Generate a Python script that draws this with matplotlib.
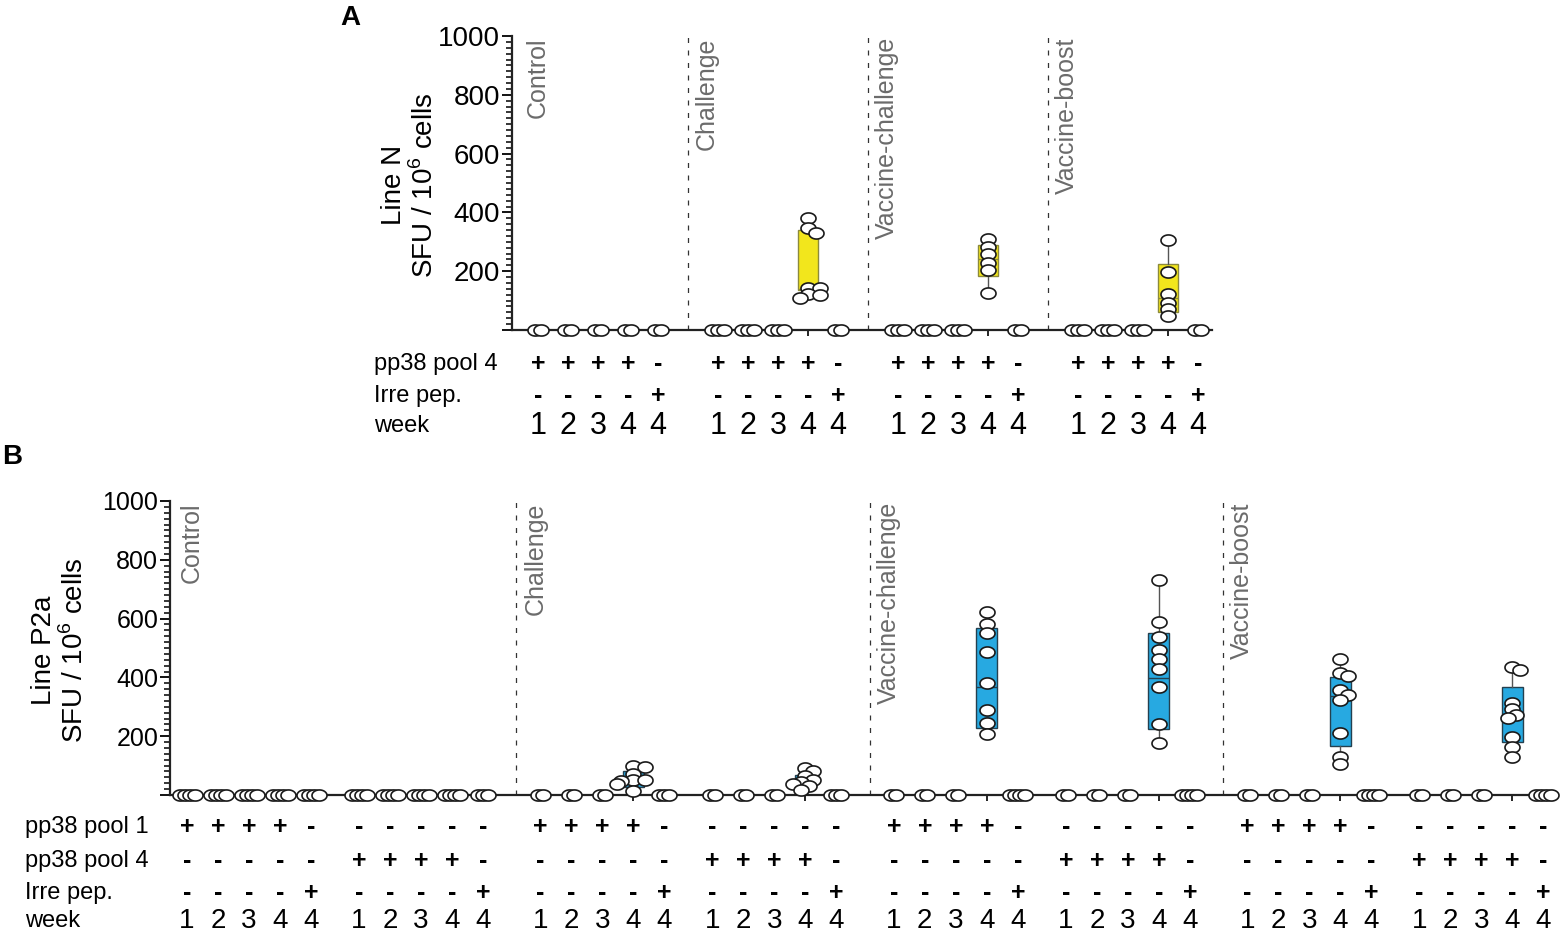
import numpy as np
import matplotlib
matplotlib.use("Agg")
import matplotlib.pyplot as plt
from matplotlib.path import Path
from matplotlib.ticker import MultipleLocator
from matplotlib.transforms import blended_transform_factory

plt.rcParams["font.family"] = ["Liberation Sans", "DejaVu Sans"]
plt.rcParams["mathtext.fontset"] = "custom"
plt.rcParams["mathtext.rm"] = "Liberation Sans"

GROUPS = ["Control", "Challenge", "Vaccine-challenge", "Vaccine-boost"]

# ---- panel A: line N, pp38 pool 4 ----
A_POOL4 = ["+", "+", "+", "+", "-"]
A_IRRE = ["-", "-", "-", "-", "+"]
A_WEEK = ["1", "2", "3", "4", "4"]
# number of animals with zero spots per condition
A_ZEROS = [
    [2, 2, 2, 2, 2],
    [3, 3, 3, 0, 2],
    [3, 3, 3, 0, 2],
    [3, 3, 3, 0, 2],
]
# responders at week 4 (pool 4 stimulation), per group
A_W4 = [
    [],
    [380, 346, 331, 144, 142, 122, 119, 108],
    [308, 284, 259, 229, 204, 125],
    [306, 196, 122, 91, 70, 48],
]
A_Q1 = [None, 136, 184, 62]
A_MED = [None, 140, 240, 108]
A_Q3 = [None, 340, 289, 224]

# ---- panel B: line P2a, pp38 pool 1 and pool 4 ----
B_POOL1 = ["+", "+", "+", "+", "-", "-", "-", "-", "-", "-"]
B_POOL4 = ["-", "-", "-", "-", "-", "+", "+", "+", "+", "-"]
B_IRRE = ["-", "-", "-", "-", "+", "-", "-", "-", "-", "+"]
B_WEEK = ["1", "2", "3", "4", "4", "1", "2", "3", "4", "4"]
B_ZEROS = [
    [4, 4, 4, 4, 4, 4, 4, 4, 4, 3],
    [2, 2, 2, 0, 3, 2, 2, 2, 0, 3],
    [2, 2, 2, 0, 4, 2, 2, 2, 0, 4],
    [2, 2, 2, 0, 4, 2, 2, 2, 0, 4],
]
# (group, pool) -> week 4 values
B_W4 = {
    (1, 0): [100, 95, 72, 51, 51, 47, 37, 15],
    (1, 1): [91, 82, 63, 51, 45, 38, 31, 17],
    (2, 0): [621, 582, 552, 487, 382, 289, 244, 207],
    (2, 1): [731, 590, 539, 493, 461, 427, 366, 241, 178],
    (3, 0): [463, 416, 405, 357, 340, 323, 210, 128, 104],
    (3, 1): [434, 425, 312, 291, 272, 261, 198, 164, 128],
}
B_BOX = {  # q1, median, q3
    (1, 0): (28, 50, 83),
    (1, 1): (28, 45, 68),
    (2, 0): (229, 366, 567),
    (2, 1): (224, 397, 552),
    (3, 0): (168, 338, 402),
    (3, 1): (181, 272, 366),
}

GREY_TXT = "#6b6b6b"
YELLOW = "#F2E61C"
BLUE = "#27A9E1"

t = np.linspace(0, 2 * np.pi, 60)
ELLIPSE = Path(np.column_stack([np.cos(t), 0.74 * np.sin(t)]), closed=True)
MW, MH = 15.0, 11.0  # marker size in pixels


def px_per_unit(ax):
    p0 = ax.transData.transform((0, 0))
    p1 = ax.transData.transform((1, 1))
    return p1[0] - p0[0], p1[1] - p0[1]


def draw_points(ax, x, values, n_zero, zero_gap):
    sx, sy = px_per_unit(ax)
    xs, ys = [], []
    if n_zero:
        offs = (np.arange(n_zero) - (n_zero - 1) / 2) * zero_gap
        xs += list(x + offs / sx)
        ys += [0] * n_zero
    placed = []
    for v in sorted(values, reverse=True):
        yp = v * sy
        for k in [0, 4, -4, 8, -8, 12, -12, 16, -16]:
            if all(((k - px) / MW) ** 2 + ((yp - py) / MH) ** 2 >= 0.55 ** 2
                   for px, py in placed):
                break
        placed.append((k, yp))
        xs.append(x + k / sx)
        ys.append(v)
    ax.plot(xs, ys, linestyle="none", marker=ELLIPSE, markersize=MW * 0.72,
            markerfacecolor="white", markeredgecolor="#1a1a1a",
            markeredgewidth=1.2, zorder=5, clip_on=False)


def draw_box(ax, x, values, q1, med, q3, color, edge):
    stats = [{"med": med, "q1": q1, "q3": q3,
              "whislo": min(values), "whishi": max(values), "fliers": []}]
    ax.bxp(stats, positions=[x], widths=0.68, patch_artist=True,
           showcaps=False, manage_ticks=False,
           boxprops=dict(facecolor=color, edgecolor=edge, linewidth=1.0),
           medianprops=dict(color=edge, linewidth=1.0),
           whiskerprops=dict(color="#555555", linewidth=1.0), zorder=3)


def style_axis(ax, positions, xlim, ticksize):
    ax.set_xlim(*xlim)
    ax.set_ylim(0, 1000)
    for side in ("top", "right"):
        ax.spines[side].set_visible(False)
    for side in ("left", "bottom"):
        ax.spines[side].set_linewidth(1.6)
        ax.spines[side].set_color("#222222")
    ax.set_yticks(np.arange(0, 1001, 200))
    ax.set_yticklabels(["", "200", "400", "600", "800", "1000"], fontsize=ticksize)
    ax.yaxis.set_minor_locator(MultipleLocator(20))
    ax.tick_params(axis="y", which="major", length=7, width=1.3, pad=1.5)
    ax.tick_params(axis="y", which="minor", length=4, width=1.1)
    ax.set_xticks(positions)
    ax.set_xticklabels([])
    ax.tick_params(axis="x", length=4, width=1.2)


def draw_separators(ax, seps, group_label_x):
    for s in seps:
        ax.axvline(s, ymin=0, ymax=1, color="#333333", linewidth=0.9,
                   linestyle=(0, (4, 6)), zorder=1)
    for gx, name in zip(group_label_x, GROUPS):
        ax.text(gx, 996, name, rotation=90, ha="center", va="top",
                fontsize=18, color=GREY_TXT)


def draw_table(fig, ax, positions, rows, y_px, label_x_px, week_size):
    tr = blended_transform_factory(ax.transData, fig.transFigure)
    H = 933.0
    for (label, signs), ypx in zip(rows, y_px):
        yf = 1 - ypx / H
        fig.text(label_x_px / 1560, yf, label, fontsize=17, ha="left", va="center")
        is_week = label == "week"
        for x, s in zip(positions, signs):
            ax.text(x, yf, s, transform=tr, ha="center", va="center",
                    fontsize=week_size if is_week else 18,
                    fontweight="normal" if is_week else "bold", clip_on=False)


fig = plt.figure(figsize=(15.6, 9.33), dpi=100)

# ---------------- panel A ----------------
axA = fig.add_axes([512 / 1560, 1 - 330 / 933, 700 / 1560, 294 / 933])
a_pos = [g * 6 + i for g in range(4) for i in range(5)]
style_axis(axA, a_pos, (-0.87, 22.47), 20)
a_seps = [g * 6 - 1 for g in range(1, 4)]
draw_separators(axA, a_seps, [-0.87 + 0.85] + [s + 0.63 for s in a_seps])
for g in range(4):
    for i in range(5):
        x = g * 6 + i
        vals = A_W4[g] if i == 3 else []
        if vals and A_Q1[g] is not None:
            draw_box(axA, x, vals, A_Q1[g], A_MED[g], A_Q3[g], YELLOW, "#8c8a3c")
        draw_points(axA, x, vals, A_ZEROS[g][i], 6.0)

draw_table(fig, axA, a_pos,
           [("pp38 pool 4", A_POOL4 * 4), ("Irre pep.", A_IRRE * 4), ("week", A_WEEK * 4)],
           [364, 396, 426], 374, 22)
fig.text(410 / 1560, 1 - 185 / 933, "Line N\nSFU / 10$^{\\mathregular{6}}$ cells",
         rotation=90, ha="center", va="center", fontsize=20, linespacing=1.15,
         multialignment="center")
fig.text(340 / 1560, 1 - 18 / 933, "A", fontsize=20, fontweight="bold", va="center")

# ---------------- panel B ----------------
axB = fig.add_axes([170 / 1560, 1 - 795 / 933, 1385 / 1560, 294 / 933])
b_start = [g * 11.4 for g in range(4)]
b_pos = [b_start[g] + p * 5.55 + i for g in range(4) for p in range(2) for i in range(5)]
style_axis(axB, b_pos, (-0.55, 44.13), 18)
b_seps = [(b_pos[g * 10 - 1] + b_pos[g * 10]) / 2 + 0.15 for g in range(1, 4)]
draw_separators(axB, b_seps, [-0.55 + 0.7] + [s + 0.62 for s in b_seps])
for g in range(4):
    for p in range(2):
        for i in range(5):
            x = b_start[g] + p * 5.55 + i
            vals = B_W4.get((g, p), []) if i == 3 else []
            if vals:
                q1, med, q3 = B_BOX[(g, p)]
                draw_box(axB, x, vals, q1, med, q3, BLUE, "#24404f")
            draw_points(axB, x, vals, B_ZEROS[g][p * 5 + i], 5.0)

draw_table(fig, axB, b_pos,
           [("pp38 pool 1", B_POOL1 * 4), ("pp38 pool 4", B_POOL4 * 4),
            ("Irre pep.", B_IRRE * 4), ("week", B_WEEK * 4)],
           [827, 861, 893, 921], 25, 20)
fig.text(60 / 1560, 1 - 650 / 933, "Line P2a\nSFU / 10$^{\\mathregular{6}}$ cells",
         rotation=90, ha="center", va="center", fontsize=20, linespacing=1.15,
         multialignment="center")
fig.text(2 / 1560, 1 - 457 / 933, "B", fontsize=20, fontweight="bold", va="center")

fig.savefig("out.png", dpi=100)
